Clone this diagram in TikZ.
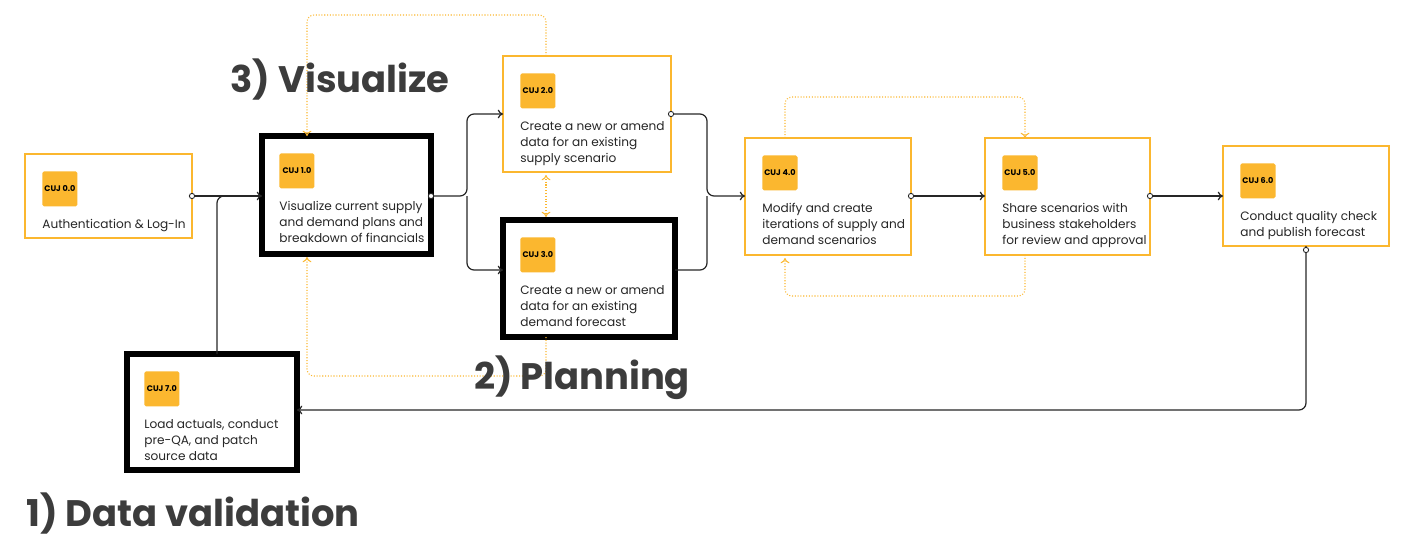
\documentclass[tikz,border=0pt]{standalone}
\usepackage{fontspec}
\setmainfont{Poppins}
\usetikzlibrary{calc,arrows.meta}
\definecolor{cujorange}{HTML}{FBB72F}
\definecolor{labelgray}{HTML}{3C3C3C}
\newcommand\cujbox[7]{
    % #1 name, #2 style, #3 x0, #4 y0, #5 x1, #6 y1, #7 number
    \draw[#2] (#3,#4) rectangle (#5,#6);
    \coordinate (#1nw) at (#3,#4);
    \coordinate (#1se) at (#5,#6);
    \node[badge, anchor=north west] (#1b) at ($(#3,#4)+(17,17)$) {CUJ #7};
}
\begin{document}
\begin{tikzpicture}[x=0.02cm, y=-0.02cm,
        obox/.style={draw=cujorange, line width=1.4pt, fill=white},
        kbox/.style={draw=black, line width=3pt, fill=white},
        badge/.style={fill=cujorange, rounded corners=1pt, font=\fontsize{4.6}{5}\selectfont\bfseries,
            inner sep=0pt, minimum width=20, minimum height=20},
        body/.style={anchor=north west, font=\fontsize{6.9}{9.1}\selectfont, inner sep=0pt,
            align=left, text=black!85},
        big/.style={font=\fontsize{21}{24}\selectfont\bfseries, text=labelgray},
        flow/.style={draw=black!85, line width=0.7pt, rounded corners=4pt},
        loop/.style={draw=cujorange, densely dotted, line width=0.6pt, rounded corners=4pt},
        arr/.style={-{To[length=3pt,width=5pt]}},
        dot/.style={circle, draw=black!85, fill=white, inner sep=0pt, minimum size=3pt, line width=0.5pt}
    ]
    \useasboundingbox (0,0) rectangle (1403,551);

    % boxes
    \cujbox{c0}{obox}{25}{154}{192}{238}{0.0}
    \cujbox{c1}{kbox}{262}{136}{431}{254}{1.0}
    \cujbox{c2}{obox}{503}{56}{671}{172}{2.0}
    \cujbox{c3}{kbox}{503}{220}{675}{337}{3.0}
    \cujbox{c4}{obox}{745}{138}{911}{255}{4.0}
    \cujbox{c5}{obox}{985}{138}{1150}{255}{5.0}
    \cujbox{c6}{obox}{1223}{146}{1389}{246}{6.0}
    \cujbox{c7}{kbox}{127}{354}{297}{470}{7.0}

    \node[body] (t0) at ($(c0b.south west)+(0,12)$) {Authentication \& Log-In};
    \node[body] (t1) at ($(c1b.south west)+(0,12)$) {Visualize current supply\\and demand plans and\\breakdown of financials};
    \node[body] (t2) at ($(c2b.south west)+(0,12)$) {Create a new or amend\\data for an existing\\supply scenario};
    \node[body] (t3) at ($(c3b.south west)+(0,12)$) {Create a new or amend\\data for an existing\\demand forecast};
    \node[body] (t4) at ($(c4b.south west)+(0,12)$) {Modify and create\\iterations of supply and\\demand scenarios};
    \node[body] (t5) at ($(c5b.south west)+(0,12)$) {Share scenarios with\\business stakeholders\\for review and approval};
    \node[body] (t6) at ($(c6b.south west)+(0,12)$) {Conduct quality check\\and publish forecast};
    \node[body] (t7) at ($(c7b.south west)+(0,12)$) {Load actuals, conduct\\pre-QA, and patch\\source data};

    % solid flow
    \draw[flow, arr] (192,196) -- (262,196);
    \draw[flow] (217,354) -- (217,196) -- (240,196);
    \draw[flow, arr] (431,196) -- (467,196) -- (467,114) -- (503,114);
    \draw[flow, arr] (467,196) -- (467,270) -- (503,270);
    \draw[flow, arr] (671,114) -- (707,114) -- (707,196) -- (745,196);
    \draw[flow] (675,270) -- (707,270) -- (707,196);
    \draw[flow, arr] (911,196) -- (985,196);
    \draw[flow, arr] (1150,196) -- (1223,196);
    \draw[flow, arr] (1306,246) -- (1306,410) -- (297,410);
    \foreach \p in {(192,196),(431,196),(671,114),(911,196),(1150,196),(1306,250)}
        \node[dot] at \p {};

    % dotted loops
    \draw[loop, arr] (546,56) -- (546,15) -- (307,15) -- (307,136);
    \draw[loop, {To[length=3pt,width=5pt]}-{To[length=3pt,width=5pt]}] (546,175) -- (546,217);
    \draw[loop, arr] (546,337) -- (546,376) -- (307,376) -- (307,257);
    \draw[loop, arr] (785,138) -- (785,97) -- (1025,97) -- (1025,138);
    \draw[loop, arr] (1025,255) -- (1025,296) -- (785,296) -- (785,258);

    % stage labels
    \node[big] (lvis) at (340,80) {3) Visualize};
    \node[big] (lplan) at (582,378) {2) Planning};
    \node[big] (ldata) at (193,514) {1) Data validation};
\end{tikzpicture}
\end{document}
